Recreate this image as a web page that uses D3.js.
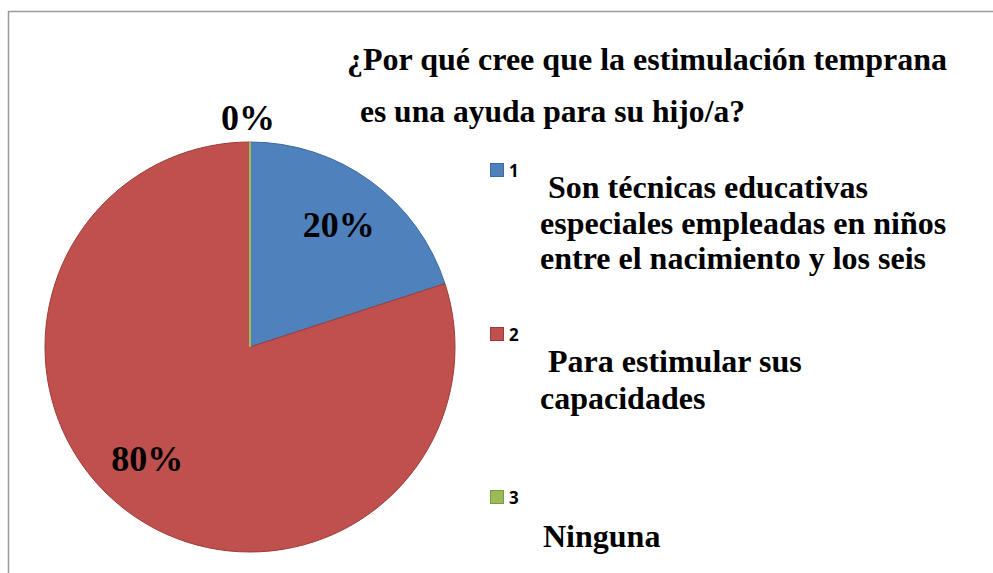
<!DOCTYPE html>
<html>
<head>
<meta charset="utf-8">
<script src="https://cdn.jsdelivr.net/npm/d3@7"></script>
<style>
  html, body { margin: 0; padding: 0; background: #fff; }
  svg { display: block; }
</style>
</head>
<body>
<div id="chart"></div>
<script>
// chart data
const categories = ["1", "2", "3"];
const percentages = [20, 80, 0];
const legendTexts = [
  [" Son técnicas educativas", "especiales empleadas en niños", "entre el nacimiento y los seis"],
  [" Para estimular sus", "capacidades"],
  ["Ninguna"]
];
const titleLines = ["¿Por qué cree que la estimulación temprana", " es una ayuda para su hijo/a?"];

const width = 993, height = 573;
const colors = ["#4F81BD", "#C0504D", "#9BBB59"];
const strokes = ["#3D6A9E", "#9E3B38", "#7A9A3E"];
const serifFont = "'Liberation Serif', 'Times New Roman', serif";
const sansFont = "'Open Sans', 'Liberation Sans', Arial, sans-serif";

const svg = d3.select("#chart").append("svg")
  .attr("width", width)
  .attr("height", height);

// helper for the bold serif texts
function serifText(sel, size) {
  return sel
    .style("font-family", serifFont)
    .style("font-weight", "bold")
    .style("font-size", size + "px")
    .style("white-space", "pre")
    .attr("fill", "#000");
}

// chart frame
svg.append("rect")
  .attr("x", 8.5).attr("y", 11.5)
  .attr("width", 1000).attr("height", 600)
  .attr("fill", "#fff")
  .attr("stroke", "#9a9a9a")
  .attr("stroke-width", 1.5);

// title (second line is clipped by the plot area, like the original)
svg.append("clipPath").attr("id", "titleClip")
  .append("rect").attr("x", 0).attr("y", 0).attr("width", width).attr("height", 129);

svg.append("text")
  .call(serifText, 32)
  .attr("x", 347).attr("y", 70)
  .attr("textLength", 600)
  .attr("lengthAdjust", "spacingAndGlyphs")
  .text(titleLines[0]);

svg.append("text")
  .call(serifText, 32)
  .attr("clip-path", "url(#titleClip)")
  .attr("x", 352).attr("y", 122)
  .attr("textLength", 393)
  .attr("lengthAdjust", "spacingAndGlyphs")
  .text(titleLines[1]);

// pie
const cx = 250, cy = 347, radius = 205;
const pie = d3.pie().sort(null).value(d => d)(percentages);
const arc = d3.arc().innerRadius(0).outerRadius(radius);

const g = svg.append("g").attr("transform", `translate(${cx},${cy})`);

g.selectAll("path.slice")
  .data(pie)
  .join("path")
  .attr("class", "slice")
  .attr("d", arc)
  .attr("fill", (d, i) => colors[i])
  .attr("stroke", (d, i) => strokes[i])
  .attr("stroke-width", 1);

// zero slice still shows as a thin green line at 12 o'clock
g.selectAll("line.zero")
  .data(pie.filter(d => d.value === 0))
  .join("line")
  .attr("class", "zero")
  .attr("x1", 0).attr("y1", 0)
  .attr("x2", d => radius * Math.sin(d.startAngle))
  .attr("y2", d => -radius * Math.cos(d.startAngle))
  .attr("stroke", colors[2])
  .attr("stroke-width", 2);

// data labels
const labelArc = d3.arc().innerRadius(151).outerRadius(151);
const outerArc = d3.arc().innerRadius(229).outerRadius(229);
const labelNudge = [[0, 0], [-14, -10], [-2, 0]];

g.selectAll("text.pct")
  .data(pie)
  .join("text")
  .attr("class", "pct")
  .call(serifText, 36)
  .attr("text-anchor", "middle")
  .attr("dominant-baseline", "central")
  .attr("transform", (d, i) => {
    const c = d.value === 0 ? outerArc.centroid(d) : labelArc.centroid(d);
    return `translate(${c[0] + labelNudge[i][0]},${c[1] + labelNudge[i][1]})`;
  })
  .text(d => d.value + "%");

// legend
const legendRows = [170, 334, 497];
const legendLineY = [[198, 234, 269], [372, 409], [547]];
const legendLineX = [540, 540, 543];

const legend = svg.append("g");
categories.forEach((c, i) => {
  legend.append("rect")
    .attr("x", 490.5).attr("y", legendRows[i] - 6.5)
    .attr("width", 13).attr("height", 13)
    .attr("fill", colors[i])
    .attr("stroke", strokes[i])
    .attr("stroke-width", 1);
  legend.append("text")
    .style("font-family", sansFont)
    .style("font-weight", "bold")
    .style("font-size", "17px")
    .attr("fill", "#000")
    .attr("x", 509).attr("y", legendRows[i] + 7)
    .text(c);
  legendTexts[i].forEach((t, j) => {
    legend.append("text")
      .call(serifText, 32)
      .attr("x", legendLineX[i]).attr("y", legendLineY[i][j])
      .text(t);
  });
});
</script>
</body>
</html>
